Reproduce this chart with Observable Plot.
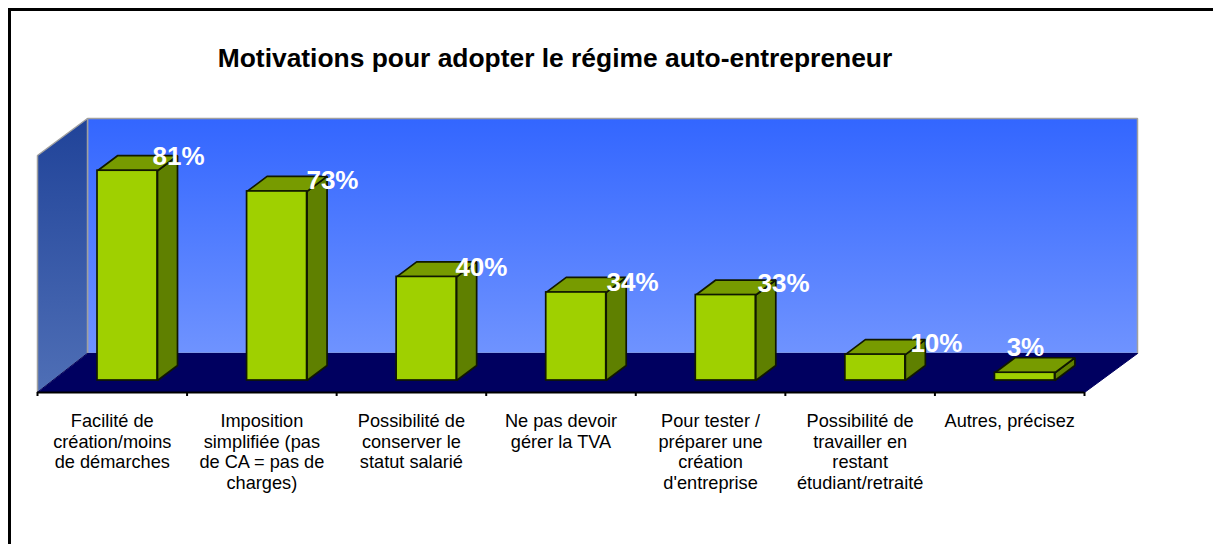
<!DOCTYPE html>
<html lang="fr">
<head>
<meta charset="utf-8">
<script src="https://cdn.jsdelivr.net/npm/d3@7"></script>
<script src="https://cdn.jsdelivr.net/npm/@observablehq/plot@0.6"></script>
<style>
html,body{margin:0;padding:0;background:#fff;overflow:hidden}
#page{position:relative;width:1213px;height:544px;font-family:"Liberation Sans",Arial,sans-serif}
#edgeTop{position:absolute;left:8px;right:0;top:8px;height:3px;background:#000}
#edgeLeft{position:absolute;left:8px;top:8px;bottom:0;width:3px;background:#000}
#title{position:absolute;left:0;top:43px;width:1110px;text-align:center;font-weight:bold;font-size:26.4px;line-height:30px;color:#000}
#chart{position:absolute;left:0;top:0}
svg{display:block}
</style>
</head>
<body>
<div id="page">
<div id="chart"></div>
<div id="edgeTop"></div>
<div id="edgeLeft"></div>
<div id="title">Motivations pour adopter le régime auto-entrepreneur</div>
</div>
<script>
const categories = [
  "Facilité de\ncréation/moins\nde démarches",
  "Imposition\nsimplifiée (pas\nde CA = pas de\ncharges)",
  "Possibilité de\nconserver le\nstatut salarié",
  "Ne pas devoir\ngérer la TVA",
  "Pour tester /\npréparer une\ncréation\nd'entreprise",
  "Possibilité de\ntravailler en\nrestant\nétudiant/retraité",
  "Autres, précisez"
];
const values = [81, 73, 40, 34, 33, 10, 3];

// ---- layout, in scale units (x: category slots, y: percent) ----
const pxX = 1047 / 7, pxY = 2.59;
const yFloorFront = -12 / pxY, yFloorBack = 27 / pxY, yWallTop = 262 / pxY, yLeftTop = 225 / pxY;
const xBackLeft = 50 / pxX, xBackRight = 7 + 53 / pxX;
const barInset = 60 / pxX, barWidth = 60 / pxX, barDX = 20 / pxX, barDY = 15 / pxY;
const labelX = [0.943, 1.972, 2.968, 3.978, 4.988, 6.01, 6.605];
const labelRaise = [5.5, 4.2, 3.6, 3.8, 4.5, 4.3, 9.7];

const bars = values.map((v, i) => ({i, v, x1: i + barInset, x2: i + barInset + barWidth}));
const poly = (pts, id) => pts.map(([x, y]) => ({x, y, id}));
const sides = bars.flatMap(b => poly([[b.x2, 0], [b.x2 + barDX, barDY], [b.x2 + barDX, b.v + barDY], [b.x2, b.v]], b.i));
const tops = bars.flatMap(b => poly([[b.x1, b.v], [b.x1 + barDX, b.v + barDY], [b.x2 + barDX, b.v + barDY], [b.x2, b.v]], b.i));
const leftWall = poly([[0, yFloorFront], [0, yLeftTop], [xBackLeft, yWallTop], [xBackLeft, yFloorBack]], 0);
const backWall = poly([[xBackLeft, yFloorBack], [xBackLeft, yWallTop], [xBackRight, yWallTop], [xBackRight, yFloorBack]], 0);
const floor = poly([[0, yFloorFront], [7, yFloorFront], [xBackRight, yFloorBack], [xBackLeft, yFloorBack]], 0);

const face = (data, o) => Plot.line(data, {x: "x", y: "y", z: "id", curve: "linear-closed", strokeLinejoin: "miter", ...o});

const gradients = () => {
  const svg = d3.create("svg:g");
  const defs = svg.append("defs");
  const add = (id, a, b) => {
    const g = defs.append("linearGradient").attr("id", id).attr("x1", 0).attr("x2", 0).attr("y1", 0).attr("y2", 1);
    g.append("stop").attr("offset", "0%").attr("stop-color", a);
    g.append("stop").attr("offset", "100%").attr("stop-color", b);
  };
  add("gWall", "#3366ff", "#6f93ff");
  add("gLeft", "#204399", "#4f6fb6");
  return svg.node();
};

const chart = Plot.plot({
  width: 1213, height: 544,
  marginLeft: 37, marginRight: 129, marginTop: 0, marginBottom: 152,
  style: {background: "transparent", fontFamily: "'Liberation Sans', Arial, sans-serif", overflow: "visible"},
  x: {domain: [0, 7], axis: null},
  y: {domain: [yFloorFront, 380 / pxY], axis: null},
  marks: [
    gradients,
    face(backWall, {fill: "url(#gWall)", stroke: "#a0a0a0", strokeWidth: 1.5}),
    face(leftWall, {fill: "url(#gLeft)", stroke: "#a0a0a0", strokeWidth: 1.5}),
    face(floor, {fill: "#000060", stroke: "#000060", strokeWidth: 1}),
    Plot.ruleY([yFloorFront], {x1: 0, x2: 7, stroke: "#000", strokeWidth: 2}),
    face(sides, {fill: "#5f8000", stroke: "#101800", strokeWidth: 1.7}),
    face(tops, {fill: "#779b00", stroke: "#101800", strokeWidth: 1.7}),
    Plot.rect(bars, {x1: "x1", x2: "x2", y1: 0, y2: "v", fill: "#9fd000", stroke: "#101800", strokeWidth: 1.7}),
    Plot.axisX({ticks: d3.range(0, 8), tickFormat: () => "", tickSize: 4, strokeWidth: 2, stroke: "#000", anchor: "bottom", label: null}),
    Plot.axisX({
      ticks: d3.range(7).map(i => i + 0.5), tickSize: 0, tickPadding: 20, anchor: "bottom", label: null,
      tickFormat: (d) => categories[Math.floor(d)], fontSize: 18.2, lineHeight: 1.13, fill: "#000",
      textOverflow: null, lineWidth: Infinity
    }),
    Plot.text(bars, {
      x: (d) => labelX[d.i], y: (d) => d.v + labelRaise[d.i], text: (d) => `${d.v}%`,
      fill: "#fff", fontWeight: "bold", fontSize: 26, textAnchor: "middle"
    })
  ]
});
document.getElementById("chart").append(chart);
</script>
</body>
</html>
